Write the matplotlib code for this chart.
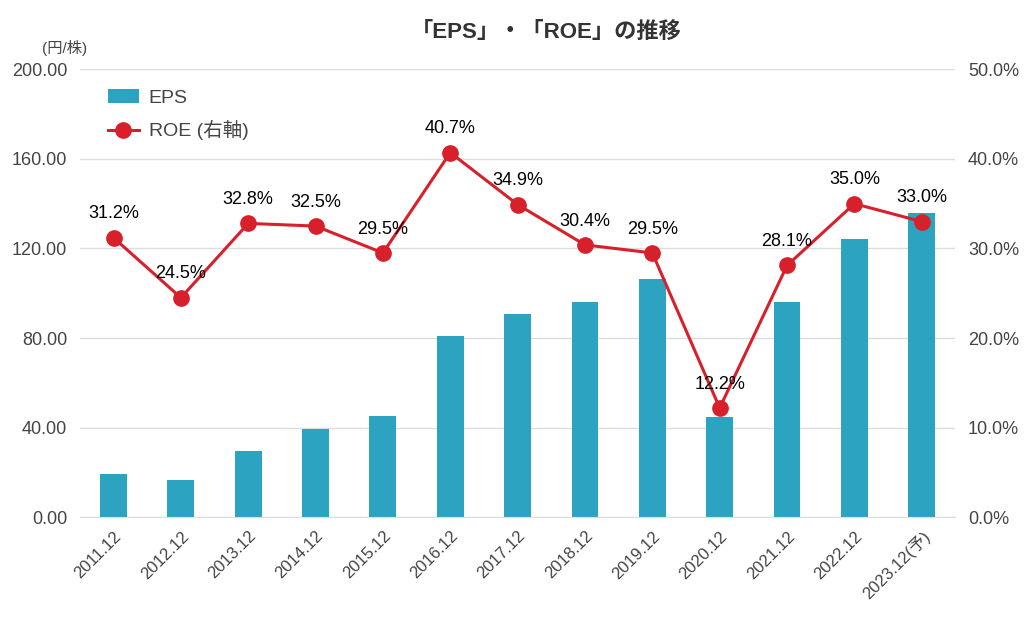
import numpy as np
import matplotlib.pyplot as plt
from matplotlib.ticker import FuncFormatter

plt.rcParams['font.family'] = ['Liberation Sans', 'Noto Sans CJK JP', 'DejaVu Sans']

periods = ['2011.12', '2012.12', '2013.12', '2014.12', '2015.12', '2016.12', '2017.12',
           '2018.12', '2019.12', '2020.12', '2021.12', '2022.12', '2023.12(予)']
eps = [19.5, 16.5, 29.5, 39.3, 45.0, 80.8, 90.6, 96.0, 106.3, 44.6, 96.0, 124.1, 135.7]
roe = [31.2, 24.5, 32.8, 32.5, 29.5, 40.7, 34.9, 30.4, 29.5, 12.2, 28.1, 35.0, 33.0]

BAR = '#2ca3c0'
RED = '#d7202b'
GRID = '#dddddd'
TXT = '#444444'

fig = plt.figure(figsize=(10.24, 6.3), dpi=100)
ax = fig.add_axes([0.078, 0.179, 0.855, 0.711])
ax2 = ax.twinx()

x = np.arange(len(periods))
ax.bar(x, eps, width=0.4, color=BAR, label='EPS', zorder=2)
ax2.plot(x, roe, color=RED, lw=2.2, marker='o', ms=11, label='ROE (右軸)', zorder=3)

# data labels above each ROE point
for xi, v in zip(x, roe):
    ax2.annotate(f'{v:.1f}%', (xi, v), xytext=(0, 11), textcoords='offset points',
                 ha='center', va='bottom', fontsize=13, color='black')

ax.set_ylim(0, 200)
ax.set_yticks(np.arange(0, 201, 40))
ax.yaxis.set_major_formatter(FuncFormatter(lambda v, p: f'{v:.2f}'))
ax2.set_ylim(0, 50)
ax2.set_yticks(np.arange(0, 51, 10))
ax2.yaxis.set_major_formatter(FuncFormatter(lambda v, p: f'{v:.1f}%'))
ax.set_xlim(-0.5, len(periods) - 0.5)
ax.set_xticks(x)
ax.set_xticklabels(periods, rotation=45, ha='right', rotation_mode='anchor')

ax.grid(axis='y', color=GRID, lw=1, zorder=0)
ax.set_axisbelow(True)
for a in (ax, ax2):
    for s in a.spines.values():
        s.set_visible(False)
    a.tick_params(length=0, colors=TXT, labelsize=13)
ax.spines['bottom'].set_visible(True)
ax.spines['bottom'].set_color(GRID)
ax.tick_params(axis='y', pad=9)
ax2.tick_params(axis='y', pad=9)
ax.tick_params(axis='x', pad=8, labelsize=12)

h1, l1 = ax.get_legend_handles_labels()
h2, l2 = ax2.get_legend_handles_labels()
leg = ax2.legend(h1 + h2, l1 + l2, loc='upper left', bbox_to_anchor=(0.012, 0.995),
                 frameon=False, fontsize=14, handlelength=1.6, labelspacing=0.7,
                 handletextpad=0.5)
for t in leg.get_texts():
    t.set_color(TXT)

fig.text(0.533, 0.948, '「EPS」・「ROE」の推移', ha='center', va='center',
         fontsize=16, fontweight='bold', color='#333333')
fig.text(0.063, 0.924, '(円/株)', ha='center', va='center', fontsize=11, color=TXT)

fig.savefig('out.png', dpi=100)
